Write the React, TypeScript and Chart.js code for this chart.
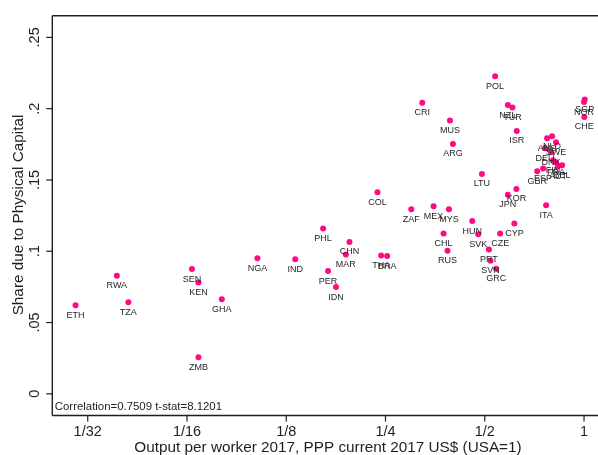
import React, { useEffect, useRef } from "react";
import { Chart, registerables } from "chart.js";

Chart.register(...registerables);

const countries = [
  "ETH", "RWA", "TZA", "SEN", "KEN", "ZMB", "GHA", "NGA", "IND", "PHL",
  "CHN", "MAR", "PER", "IDN", "THA", "BRA", "COL", "ZAF", "MEX", "MYS",
  "HUN", "CHL", "SVK", "CZE", "CYP", "RUS", "PRT", "SVN", "GRC", "JPN",
  "KOR", "ITA", "LTU", "POL", "CRI", "MUS", "ARG", "NZL", "TUR", "ISR",
  "SGP", "NOR", "CHE", "AUS", "NLD", "SWE", "DEU", "DNK", "FIN", "FRA",
  "ESP", "AUT", "BEL", "GBR",
];

const outputPerWorker = [
  0.0287, 0.0383, 0.0415, 0.0647, 0.0677, 0.0677, 0.0797, 0.1022, 0.1331, 0.1617,
  0.1944, 0.1895, 0.1674, 0.1769, 0.2425, 0.2529, 0.2363, 0.2993, 0.3497, 0.3894,
  0.4582, 0.375, 0.4777, 0.5567, 0.6149, 0.3855, 0.5146, 0.5203, 0.5413, 0.5873,
  0.6236, 0.7674, 0.4902, 0.5375, 0.3231, 0.3921, 0.4003, 0.5873, 0.6066, 0.6252,
  1.005, 1.0, 1.002, 0.7726, 0.8001, 0.8225, 0.7619, 0.7945, 0.8056, 0.8225,
  0.7514, 0.8341, 0.858, 0.7211,
];

const shareCapital = [
  0.0622, 0.0829, 0.0643, 0.0875, 0.078, 0.0257, 0.0664, 0.095, 0.0943, 0.1159,
  0.1065, 0.0978, 0.0861, 0.0749, 0.0971, 0.0966, 0.1414, 0.1294, 0.1315, 0.1294,
  0.1212, 0.1124, 0.1119, 0.1124, 0.1194, 0.1004, 0.1013, 0.0934, 0.0878, 0.1396,
  0.1437, 0.1322, 0.1542, 0.2228, 0.2041, 0.1917, 0.1753, 0.2025, 0.2008, 0.1844,
  0.2065, 0.2046, 0.1942, 0.1793, 0.1807, 0.1765, 0.1723, 0.1695, 0.1638, 0.1624,
  0.158, 0.1596, 0.1603, 0.1561,
];

const xTicks = [1 / 32, 1 / 16, 1 / 8, 1 / 4, 1 / 2, 1];
const xTickLabels = ["1/32", "1/16", "1/8", "1/4", "1/2", "1"];
const yTicks = [0, 0.05, 0.1, 0.15, 0.2, 0.25];
const yTickLabels = ["0", ".05", ".1", ".15", ".2", ".25"];

const xTitle = "Output per worker 2017, PPP current 2017 US$ (USA=1)";
const yTitle = "Share due to Physical Capital";
const note = "Correlation=0.7509 t-stat=8.1201";

const FONT = '"Liberation Sans", Arial, Helvetica, sans-serif';
const DOT = "#ff0a82";
const INK = "#1e1e1e";

const decorPlugin = {
  id: "stataDecor",
  afterDraw(chart: any) {
    const ctx = chart.ctx;
    const area = chart.chartArea;
    const xs = chart.scales.x;
    const ys = chart.scales.y;
    ctx.save();
    // frame
    ctx.strokeStyle = INK;
    ctx.lineWidth = 1.4;
    ctx.beginPath();
    ctx.moveTo(area.left, area.top);
    ctx.lineTo(area.left, area.bottom);
    ctx.moveTo(area.left, area.top);
    ctx.lineTo(chart.width + 2, area.top);
    ctx.moveTo(area.left, area.bottom);
    ctx.lineTo(chart.width + 2, area.bottom);
    ctx.stroke();

    // x ticks
    ctx.lineWidth = 1.2;
    ctx.fillStyle = INK;
    ctx.font = `14.5px ${FONT}`;
    ctx.textAlign = "center";
    ctx.textBaseline = "middle";
    xTicks.forEach((v, i) => {
      const px = xs.getPixelForValue(v);
      ctx.beginPath();
      ctx.moveTo(px, area.bottom);
      ctx.lineTo(px, area.bottom + 6);
      ctx.stroke();
      ctx.fillText(xTickLabels[i], px, area.bottom + 16.5);
    });

    // y ticks
    yTicks.forEach((v, i) => {
      const py = ys.getPixelForValue(v);
      ctx.beginPath();
      ctx.moveTo(area.left - 6, py);
      ctx.lineTo(area.left, py);
      ctx.stroke();
      ctx.save();
      ctx.translate(area.left - 17, py);
      ctx.rotate(-Math.PI / 2);
      ctx.fillText(yTickLabels[i], 0, 0);
      ctx.restore();
    });

    // titles
    ctx.font = `15.3px ${FONT}`;
    ctx.fillText(xTitle, 328, 448);
    ctx.save();
    ctx.translate(18.5, 215);
    ctx.rotate(-Math.PI / 2);
    ctx.fillText(yTitle, 0, 0);
    ctx.restore();

    // note
    ctx.font = `11.4px ${FONT}`;
    ctx.textAlign = "left";
    ctx.fillText(note, area.left + 2.5, 406.7);

    // point labels
    const meta = chart.getDatasetMeta(0);
    ctx.font = `9px ${FONT}`;
    ctx.textAlign = "center";
    ctx.fillStyle = "#262626";
    meta.data.forEach((pt: any, i: number) => {
      ctx.fillText(countries[i], pt.x, pt.y + 10);
    });
    ctx.restore();
  },
};

export default function App() {
  const ref = useRef<HTMLCanvasElement | null>(null);
  useEffect(() => {
    if (!ref.current) return;
    const data = outputPerWorker.map((x, i) => ({ x, y: shareCapital[i] }));
    const chart = new Chart(ref.current, {
      type: "scatter",
      data: {
        datasets: [
          {
            data,
            pointRadius: 3,
            pointBorderWidth: 0,
            pointBackgroundColor: DOT,
            pointBorderColor: DOT,
          },
        ],
      },
      options: {
        responsive: false,
        animation: false,
        devicePixelRatio: 1,
        layout: { autoPadding: false, padding: { left: 52.3, top: 15.7, right: 0, bottom: 39.5 } },
        plugins: { legend: { display: false }, tooltip: { enabled: false } },
        scales: {
          x: { type: "logarithmic", display: false, min: 0.0244, max: 1.1025 },
          y: { type: "linear", display: false, min: -0.0152, max: 0.2652 },
        },
      },
      plugins: [decorPlugin],
    });
    return () => chart.destroy();
  }, []);
  return (
    <div style={{ position: "absolute", left: 0, top: 0, width: 598, height: 455, background: "#fff" }}>
      <canvas ref={ref} width={598} height={455} style={{ display: "block" }} />
    </div>
  );
}
